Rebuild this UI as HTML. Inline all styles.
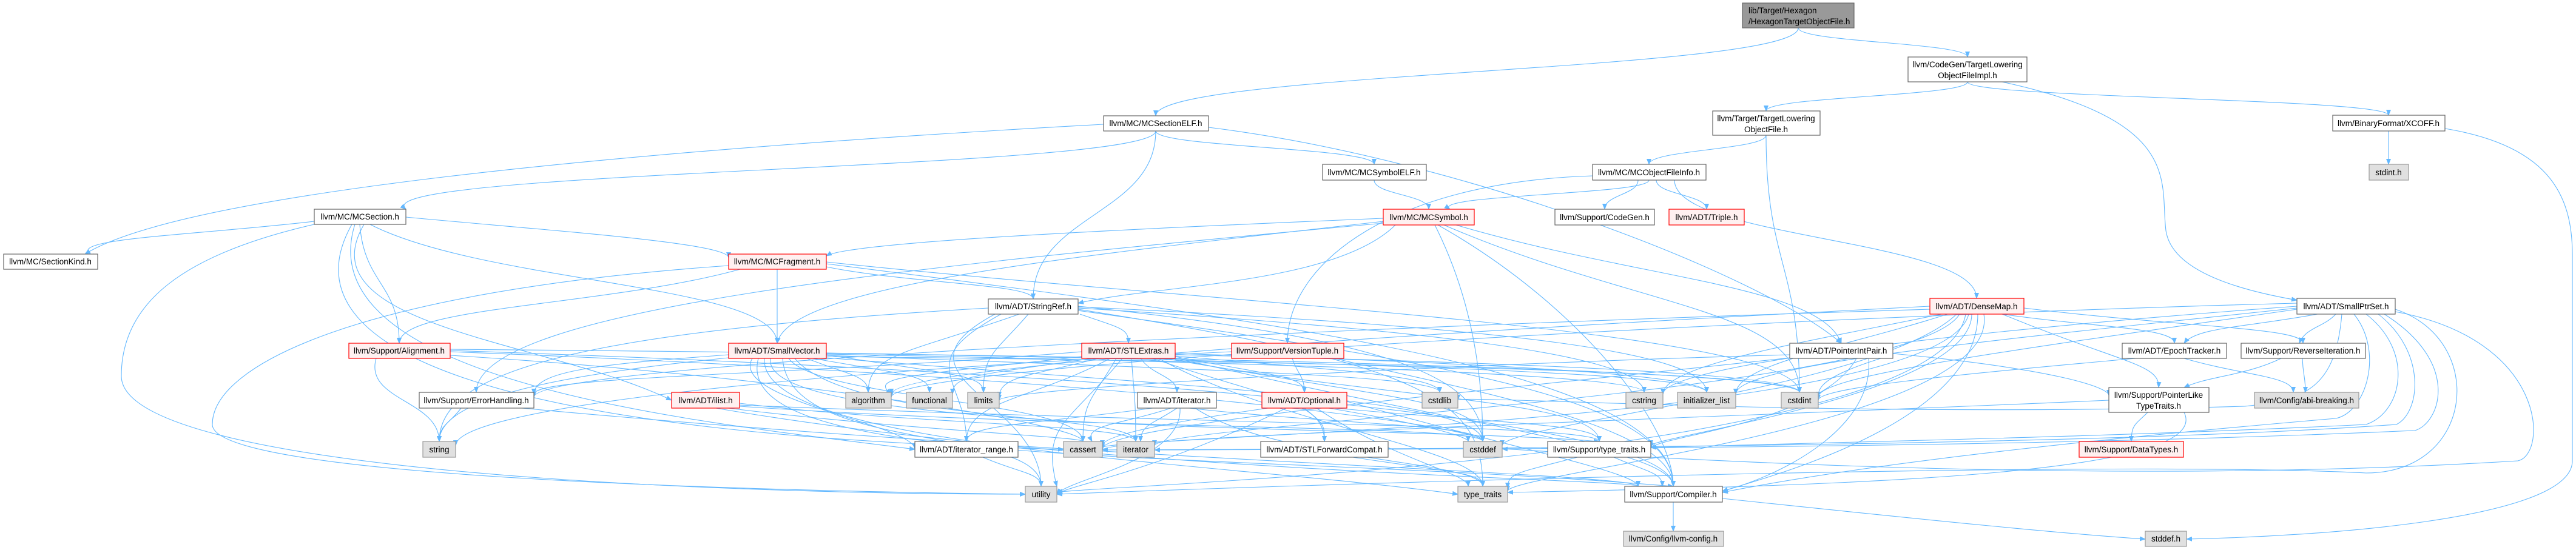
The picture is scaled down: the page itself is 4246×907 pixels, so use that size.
<!DOCTYPE html>
<html><head><meta charset="utf-8"><style>
html,body{margin:0;padding:0;background:#fff}
svg{display:block}
text{font-family:"Liberation Sans",Arial,sans-serif;font-size:13.5px;fill:#000}
.e{fill:none;stroke:#63b8ff;stroke-width:1.1;marker-end:url(#a)}
.n rect{fill:#fff;stroke:#666;stroke-width:1.2}
.r rect{fill:#fff0f0;stroke:#ff0000;stroke-width:1.2}
.g rect{fill:#e0e0e0;stroke:#999;stroke-width:1.2}
</style></head><body>
<svg width="4246" height="907" viewBox="0 0 4246 907" xmlns="http://www.w3.org/2000/svg">
<defs><marker id="a" markerWidth="10" markerHeight="8" refX="9" refY="4" orient="auto" markerUnits="userSpaceOnUse"><path d="M0,0 L10,4 L0,8 z" fill="#63b8ff"/></marker></defs>
<g>
<path class="e" d="M2964 46C2964 118 1905 118 1905 191"/>
<path class="e" d="M2964 46C2964 70 3243 70 3243 94"/>
<path class="e" d="M3243 135C3243 159 2911 159 2911 183"/>
<path class="e" d="M3243 135C3243 162 3937 162 3937 190"/>
<path class="e" d="M3300 135C3600 200 3560 300 3570 380C3580 450 3700 480 3786 495"/>
<path class="e" d="M3937 216L3937 271"/>
<path class="e" d="M4030 212C4200 240 4240 320 4240 420L4240 760C4240 860 3800 885 3604 889"/>
<path class="e" d="M2911 223C2911 435 2966 435 2966 647"/>
<path class="e" d="M2911 223C2911 247 2718 247 2718 271"/>
<path class="e" d="M1905 216C1905 280 593 280 669 345"/>
<path class="e" d="M1819 205C1000 250 300 320 140 419"/>
<path class="e" d="M1905 216C1905 243 2265 243 2265 271"/>
<path class="e" d="M1905 216C1905 354 1703 354 1703 493"/>
<path class="e" d="M1992 210C2400 260 2900 450 3035 566"/>
<path class="e" d="M2265 297C2265 321 2355 321 2355 345"/>
<path class="e" d="M2718 297C2718 321 2355 321 2390 345"/>
<path class="e" d="M2700 297C2700 321 2645 321 2645 345"/>
<path class="e" d="M2730 297C2730 321 2813 321 2813 345"/>
<path class="e" d="M2625 290C2300 300 2122 431 2122 566"/>
<path class="e" d="M2760 297C2760 394 3258 394 3258 492"/>
<path class="e" d="M2280 360C1800 380 1400 400 1362 422"/>
<path class="e" d="M2300 371C2200 470 1900 470 1777 500"/>
<path class="e" d="M2400 371C2700 460 3000 470 3035 566"/>
<path class="e" d="M2380 371C2700 509 2966 509 2966 647"/>
<path class="e" d="M2365 371C2420 480 2444 600 2444 728"/>
<path class="e" d="M2370 371C2600 500 2758 700 2758 802"/>
<path class="e" d="M2280 365C1800 420 1300 468 1281 566"/>
<path class="e" d="M2280 368C1500 440 785 509 785 647"/>
<path class="e" d="M518 365C300 390 83 394 161 425"/>
<path class="e" d="M669 358C900 380 1201 400 1201 425"/>
<path class="e" d="M593 370C600 468 658 468 658 566"/>
<path class="e" d="M610 370C800 468 1281 468 1281 566"/>
<path class="e" d="M600 370C500 540 900 560 1107 660"/>
<path class="e" d="M518 370C300 420 200 500 200 620C200 780 1200 815 1690 815"/>
<path class="e" d="M580 370C450 600 900 720 1753 741"/>
<path class="e" d="M585 370C500 640 1200 700 1508 741"/>
<path class="e" d="M1281 444L1281 566"/>
<path class="e" d="M1362 440C1500 468 1703 468 1703 493"/>
<path class="e" d="M1220 444C1000 505 658 505 658 566"/>
<path class="e" d="M1201 438C600 480 350 600 350 700C350 790 1300 810 1690 815"/>
<path class="e" d="M1362 432C2000 500 2966 545 2966 647"/>
<path class="e" d="M1362 435C2200 540 2758 623 2758 802"/>
<path class="e" d="M1780 518C1850 542 1860 542 1860 566"/>
<path class="e" d="M1680 518C1500 582 1431 582 1431 647"/>
<path class="e" d="M1695 518C1640 582 1621 582 1621 647"/>
<path class="e" d="M1777 508C2300 540 2710 582 2710 647"/>
<path class="e" d="M1777 505C2300 560 2444 623 2444 728"/>
<path class="e" d="M1777 510C2350 600 2444 660 2444 802"/>
<path class="e" d="M1777 512C2400 600 2758 660 2758 802"/>
<path class="e" d="M1629 508C900 550 724 623 724 728"/>
<path class="e" d="M1650 518C1500 600 1593 623 1593 728"/>
<path class="e" d="M1640 518C1450 620 1716 660 1716 802"/>
<path class="e" d="M1777 506C2500 540 2813 582 2813 647"/>
<path class="e" d="M1330 591C1400 619 1431 619 1431 647"/>
<path class="e" d="M1340 591C1500 619 1532 619 1532 647"/>
<path class="e" d="M1362 585C1580 619 1621 619 1621 647"/>
<path class="e" d="M1300 591C1350 660 1785 660 1785 728"/>
<path class="e" d="M1310 591C1400 700 1872 680 1872 728"/>
<path class="e" d="M1290 591C1300 750 1716 700 1716 802"/>
<path class="e" d="M1362 590C2000 640 2444 660 2444 728"/>
<path class="e" d="M1362 588C2500 600 2966 620 2966 647"/>
<path class="e" d="M1362 586C2000 610 2373 620 2373 647"/>
<path class="e" d="M1362 584C2200 600 2710 620 2710 647"/>
<path class="e" d="M1362 582C2400 600 2813 620 2813 647"/>
<path class="e" d="M1250 591C1200 780 2000 740 2758 802"/>
<path class="e" d="M1270 591C1250 720 2300 700 2636 728"/>
<path class="e" d="M1201 585C1000 600 880 610 880 650"/>
<path class="e" d="M1240 591C1200 660 1508 700 1508 741"/>
<path class="e" d="M1201 590C900 620 724 660 724 728"/>
<path class="e" d="M1260 591C1250 740 2000 760 2403 815"/>
<path class="e" d="M1880 591C1900 620 1940 620 1940 647"/>
<path class="e" d="M1937 588C2100 620 2150 620 2150 647"/>
<path class="e" d="M1783 588C1500 620 1431 620 1469 650"/>
<path class="e" d="M1800 591C1600 620 1570 620 1570 650"/>
<path class="e" d="M1810 591C1700 620 1647 620 1647 655"/>
<path class="e" d="M1840 591C1800 660 1785 660 1785 728"/>
<path class="e" d="M1865 591C1870 660 1872 660 1872 728"/>
<path class="e" d="M1850 591C1760 700 1716 700 1742 802"/>
<path class="e" d="M1830 591C1700 660 1593 660 1593 728"/>
<path class="e" d="M1900 591C2100 660 2183 660 2183 728"/>
<path class="e" d="M1937 593C2300 660 2444 660 2444 728"/>
<path class="e" d="M1937 585C2600 600 2966 620 2966 647"/>
<path class="e" d="M1937 587C2200 610 2373 620 2373 647"/>
<path class="e" d="M1937 583C2500 600 2813 620 2813 647"/>
<path class="e" d="M1920 591C2300 660 2636 660 2636 728"/>
<path class="e" d="M1910 591C2100 700 2444 740 2444 802"/>
<path class="e" d="M1937 590C2400 700 2758 740 2758 802"/>
<path class="e" d="M1783 580C1300 620 880 620 880 650"/>
<path class="e" d="M1900 673C1700 700 1593 700 1593 728"/>
<path class="e" d="M1930 673C1850 700 1785 700 1800 728"/>
<path class="e" d="M1940 673C1900 700 1880 700 1880 728"/>
<path class="e" d="M1945 673C1950 760 1760 790 1742 815"/>
<path class="e" d="M1960 673C2200 700 2444 700 2444 728"/>
<path class="e" d="M1970 673C2100 760 2444 760 2444 802"/>
<path class="e" d="M2150 673C2183 700 2183 700 2183 728"/>
<path class="e" d="M2200 673C2500 700 2636 700 2636 728"/>
<path class="e" d="M2220 662C2500 740 2700 780 2700 802"/>
<path class="e" d="M2120 673C1900 780 1760 800 1742 815"/>
<path class="e" d="M2090 673C1900 700 1817 720 1817 735"/>
<path class="e" d="M2170 673C2300 760 2420 780 2420 802"/>
<path class="e" d="M2190 673C2350 700 2420 720 2420 728"/>
<path class="e" d="M2130 591C2140 620 2150 620 2150 647"/>
<path class="e" d="M2200 591C2400 640 2758 700 2758 802"/>
<path class="e" d="M2030 580C1200 620 751 680 751 735"/>
<path class="e" d="M1219 665C1500 700 1872 700 1872 728"/>
<path class="e" d="M1200 673C1500 710 1785 720 1785 728"/>
<path class="e" d="M1219 670C1800 710 2444 700 2444 728"/>
<path class="e" d="M1219 668C2000 700 2636 700 2636 728"/>
<path class="e" d="M1180 673C1800 780 2700 790 2700 802"/>
<path class="e" d="M620 591C600 660 724 660 724 728"/>
<path class="e" d="M742 586C1300 620 1785 700 1785 728"/>
<path class="e" d="M742 580C1800 620 2444 700 2444 728"/>
<path class="e" d="M742 578C2000 620 2758 700 2758 802"/>
<path class="e" d="M742 576C2400 590 2966 620 2966 647"/>
<path class="e" d="M760 673C740 700 724 700 724 728"/>
<path class="e" d="M860 673C1800 760 2700 780 2700 802"/>
<path class="e" d="M1620 754C1680 780 1716 780 1716 802"/>
<path class="e" d="M2230 754C2400 780 2444 780 2444 802"/>
<path class="e" d="M2600 754C2500 780 2485 780 2485 805"/>
<path class="e" d="M2660 754C2720 780 2740 780 2740 802"/>
<path class="e" d="M2758 828L2758 876"/>
<path class="e" d="M2839 822C3200 860 3400 880 3536 889"/>
<path class="e" d="M3120 585C3000 620 2997 640 2997 655"/>
<path class="e" d="M3120 583C3400 610 3476 640 3476 652"/>
<path class="e" d="M3080 591C3090 700 2950 780 2839 810"/>
<path class="e" d="M3060 591C3000 700 2721 720 2721 740"/>
<path class="e" d="M2950 590C2500 640 1817 700 1817 740"/>
<path class="e" d="M2950 585C2400 600 1647 640 1647 660"/>
<path class="e" d="M3300 518C3450 540 3584 540 3584 566"/>
<path class="e" d="M3336 508C3600 540 3796 540 3796 566"/>
<path class="e" d="M3200 518C3000 560 2741 600 2741 650"/>
<path class="e" d="M3210 518C3050 570 2861 600 2861 650"/>
<path class="e" d="M3225 518C3100 640 2476 700 2476 735"/>
<path class="e" d="M3181 505C2500 540 1469 600 1469 650"/>
<path class="e" d="M3230 518C3150 650 1903 700 1903 735"/>
<path class="e" d="M3240 518C3200 760 1800 800 1742 812"/>
<path class="e" d="M3260 518C3260 700 2900 790 2839 810"/>
<path class="e" d="M3250 518C3250 650 2721 720 2721 735"/>
<path class="e" d="M3181 510C2200 540 880 600 880 655"/>
<path class="e" d="M3245 518C3200 700 1817 720 1817 738"/>
<path class="e" d="M3270 518C3300 700 2485 780 2485 810"/>
<path class="e" d="M3300 518C3500 600 3560 600 3558 639"/>
<path class="e" d="M3600 591C3700 620 3780 620 3780 647"/>
<path class="e" d="M3520 591C3200 620 2997 640 2997 660"/>
<path class="e" d="M3760 591C3700 620 3640 620 3600 639"/>
<path class="e" d="M3795 591C3796 620 3800 620 3800 647"/>
<path class="e" d="M3540 680C3520 700 3513 700 3513 728"/>
<path class="e" d="M3476 660C2800 690 1817 720 1817 742"/>
<path class="e" d="M3600 680C3650 780 3100 800 2485 812"/>
<path class="e" d="M3820 518C3700 540 3620 540 3600 566"/>
<path class="e" d="M3850 518C3830 540 3800 540 3790 566"/>
<path class="e" d="M3880 518C3930 580 3900 680 3850 690C3500 720 3100 760 2839 812"/>
<path class="e" d="M3900 518C3980 580 3960 680 3900 700C3500 720 3000 730 2721 738"/>
<path class="e" d="M3920 518C4000 580 3990 680 3950 700C3400 740 2200 740 1817 742"/>
<path class="e" d="M3930 518C4060 600 4020 700 3980 710C3300 740 2500 740 1903 742"/>
<path class="e" d="M3948 510C4100 560 4080 780 3900 780C3500 760 2400 790 1742 815"/>
<path class="e" d="M3948 514C4200 560 4200 750 4150 760C3500 800 2800 760 2476 740"/>
<path class="e" d="M3860 518C3850 640 3800 660 3700 670C3000 690 2403 650 2403 660"/>
<path class="e" d="M3786 505C3300 540 2741 600 2741 650"/>
<path class="e" d="M3786 508C3300 560 2861 600 2861 650"/>
<path class="e" d="M3786 510C3300 580 2997 620 2997 655"/>
<path class="e" d="M3786 500C3000 520 1469 600 1469 655"/>
</g>
<g class="g"><rect x="2872" y="5" width="184" height="41" style="fill:#999;stroke:#666"/></g>
<text x="2882" y="22">lib/Target/Hexagon</text><text x="2882" y="40">/HexagonTargetObjectFile.h</text>
<g class="n"><rect x="3145" y="94" width="196" height="41"/></g>
<text x="3243" y="111" text-anchor="middle">llvm/CodeGen/TargetLowering</text><text x="3243" y="129" text-anchor="middle">ObjectFileImpl.h</text>
<g class="n"><rect x="2823" y="183" width="177" height="40"/></g>
<text x="2911" y="200" text-anchor="middle">llvm/Target/TargetLowering</text><text x="2911" y="218" text-anchor="middle">ObjectFile.h</text>
<g class="n"><rect x="3476" y="639" width="165" height="41"/></g>
<text x="3558" y="656" text-anchor="middle">llvm/Support/PointerLike</text><text x="3558" y="674" text-anchor="middle">TypeTraits.h</text>
<g font-size="13.5" text-anchor="middle">
<g class="n"><rect x="1819" y="191" width="173" height="25"/><text x="1905" y="208" text-anchor="middle">llvm/MC/MCSectionELF.h</text></g>
<g class="n"><rect x="3845" y="190" width="185" height="26"/><text x="3937" y="208" text-anchor="middle">llvm/BinaryFormat/XCOFF.h</text></g>
<g class="n"><rect x="2180" y="271" width="171" height="26"/><text x="2265" y="289" text-anchor="middle">llvm/MC/MCSymbolELF.h</text></g>
<g class="n"><rect x="2625" y="271" width="187" height="26"/><text x="2718" y="289" text-anchor="middle">llvm/MC/MCObjectFileInfo.h</text></g>
<g class="g"><rect x="3905" y="271" width="65" height="26"/><text x="3937" y="289" text-anchor="middle">stdint.h</text></g>
<g class="n"><rect x="518" y="345" width="151" height="25"/><text x="593" y="362" text-anchor="middle">llvm/MC/MCSection.h</text></g>
<g class="r"><rect x="2280" y="345" width="150" height="26"/><text x="2355" y="363" text-anchor="middle">llvm/MC/MCSymbol.h</text></g>
<g class="n"><rect x="2563" y="345" width="164" height="26"/><text x="2645" y="363" text-anchor="middle">llvm/Support/CodeGen.h</text></g>
<g class="r"><rect x="2751" y="345" width="124" height="26"/><text x="2813" y="363" text-anchor="middle">llvm/ADT/Triple.h</text></g>
<g class="n"><rect x="6" y="419" width="155" height="25"/><text x="83" y="436" text-anchor="middle">llvm/MC/SectionKind.h</text></g>
<g class="r"><rect x="1201" y="419" width="161" height="25"/><text x="1281" y="436" text-anchor="middle">llvm/MC/MCFragment.h</text></g>
<g class="n"><rect x="1629" y="493" width="148" height="25"/><text x="1703" y="510" text-anchor="middle">llvm/ADT/StringRef.h</text></g>
<g class="r"><rect x="3181" y="492" width="155" height="26"/><text x="3258" y="510" text-anchor="middle">llvm/ADT/DenseMap.h</text></g>
<g class="n"><rect x="3786" y="492" width="162" height="26"/><text x="3867" y="510" text-anchor="middle">llvm/ADT/SmallPtrSet.h</text></g>
<g class="r"><rect x="575" y="566" width="167" height="25"/><text x="658" y="583" text-anchor="middle">llvm/Support/Alignment.h</text></g>
<g class="r"><rect x="1201" y="566" width="161" height="25"/><text x="1281" y="583" text-anchor="middle">llvm/ADT/SmallVector.h</text></g>
<g class="r"><rect x="1783" y="566" width="154" height="25"/><text x="1860" y="583" text-anchor="middle">llvm/ADT/STLExtras.h</text></g>
<g class="r"><rect x="2030" y="566" width="185" height="25"/><text x="2122" y="583" text-anchor="middle">llvm/Support/VersionTuple.h</text></g>
<g class="n"><rect x="2950" y="566" width="170" height="25"/><text x="3035" y="583" text-anchor="middle">llvm/ADT/PointerIntPair.h</text></g>
<g class="n"><rect x="3498" y="566" width="172" height="25"/><text x="3584" y="583" text-anchor="middle">llvm/ADT/EpochTracker.h</text></g>
<g class="n"><rect x="3694" y="566" width="205" height="25"/><text x="3796" y="583" text-anchor="middle">llvm/Support/ReverseIteration.h</text></g>
<g class="n"><rect x="691" y="647" width="189" height="26"/><text x="785" y="665" text-anchor="middle">llvm/Support/ErrorHandling.h</text></g>
<g class="r"><rect x="1107" y="647" width="112" height="26"/><text x="1163" y="665" text-anchor="middle">llvm/ADT/ilist.h</text></g>
<g class="g"><rect x="1394" y="647" width="75" height="26"/><text x="1431" y="665" text-anchor="middle">algorithm</text></g>
<g class="g"><rect x="1494" y="647" width="76" height="26"/><text x="1532" y="665" text-anchor="middle">functional</text></g>
<g class="g"><rect x="1595" y="647" width="52" height="26"/><text x="1621" y="665" text-anchor="middle">limits</text></g>
<g class="n"><rect x="1875" y="647" width="130" height="26"/><text x="1940" y="665" text-anchor="middle">llvm/ADT/iterator.h</text></g>
<g class="r"><rect x="2080" y="647" width="140" height="26"/><text x="2150" y="665" text-anchor="middle">llvm/ADT/Optional.h</text></g>
<g class="g"><rect x="2344" y="647" width="59" height="26"/><text x="2373" y="665" text-anchor="middle">cstdlib</text></g>
<g class="g"><rect x="2680" y="647" width="61" height="26"/><text x="2710" y="665" text-anchor="middle">cstring</text></g>
<g class="g"><rect x="2765" y="647" width="96" height="26"/><text x="2813" y="665" text-anchor="middle">initializer_list</text></g>
<g class="g"><rect x="2936" y="647" width="61" height="26"/><text x="2966" y="665" text-anchor="middle">cstdint</text></g>
<g class="g"><rect x="3716" y="647" width="172" height="26"/><text x="3802" y="665" text-anchor="middle">llvm/Config/abi-breaking.h</text></g>
<g class="g"><rect x="697" y="728" width="54" height="26"/><text x="724" y="746" text-anchor="middle">string</text></g>
<g class="n"><rect x="1508" y="728" width="170" height="26"/><text x="1593" y="746" text-anchor="middle">llvm/ADT/iterator_range.h</text></g>
<g class="g"><rect x="1753" y="728" width="64" height="26"/><text x="1785" y="746" text-anchor="middle">cassert</text></g>
<g class="g"><rect x="1841" y="728" width="62" height="26"/><text x="1872" y="746" text-anchor="middle">iterator</text></g>
<g class="n"><rect x="2078" y="728" width="210" height="26"/><text x="2183" y="746" text-anchor="middle">llvm/ADT/STLForwardCompat.h</text></g>
<g class="g"><rect x="2412" y="728" width="64" height="26"/><text x="2444" y="746" text-anchor="middle">cstddef</text></g>
<g class="n"><rect x="2551" y="728" width="170" height="26"/><text x="2636" y="746" text-anchor="middle">llvm/Support/type_traits.h</text></g>
<g class="r"><rect x="3427" y="728" width="172" height="26"/><text x="3513" y="746" text-anchor="middle">llvm/Support/DataTypes.h</text></g>
<g class="g"><rect x="1690" y="802" width="52" height="26"/><text x="1716" y="820" text-anchor="middle">utility</text></g>
<g class="g"><rect x="2403" y="802" width="82" height="26"/><text x="2444" y="820" text-anchor="middle">type_traits</text></g>
<g class="n"><rect x="2678" y="802" width="161" height="26"/><text x="2758" y="820" text-anchor="middle">llvm/Support/Compiler.h</text></g>
<g class="g"><rect x="2676" y="876" width="165" height="25"/><text x="2758" y="893" text-anchor="middle">llvm/Config/llvm-config.h</text></g>
<g class="g"><rect x="3536" y="876" width="68" height="25"/><text x="3570" y="893" text-anchor="middle">stddef.h</text></g>
</g>
</svg>
</body></html>
